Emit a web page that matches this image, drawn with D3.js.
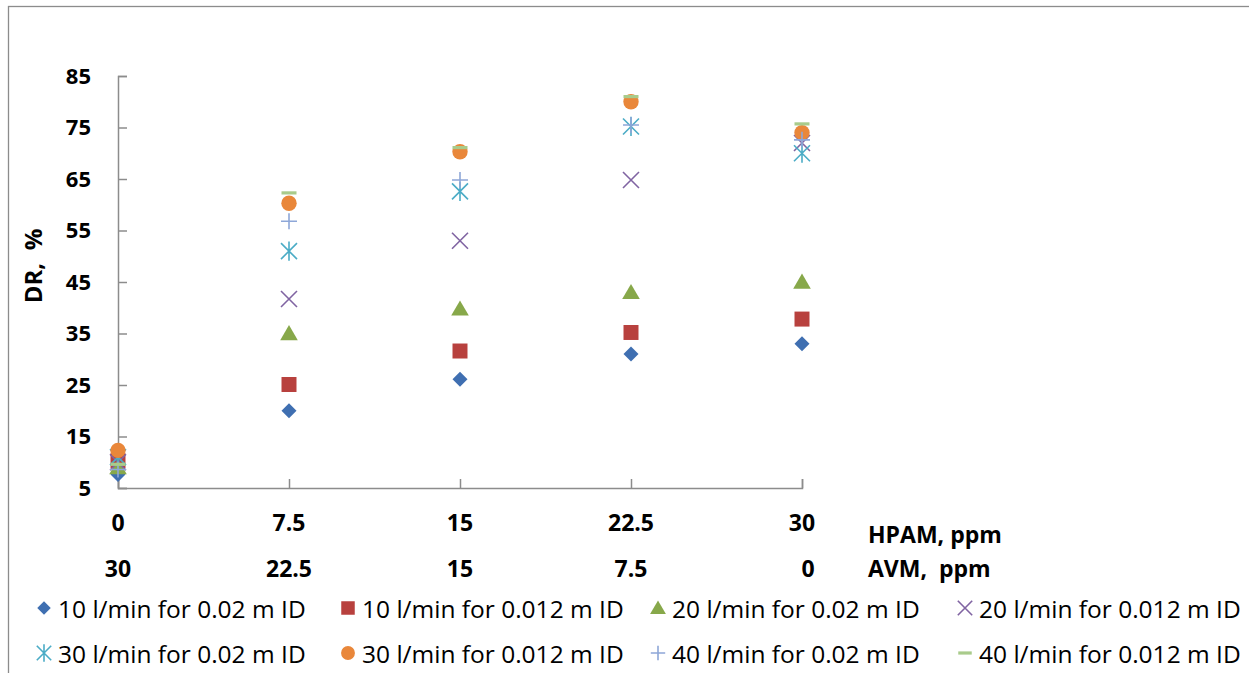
<!DOCTYPE html>
<html>
<head>
<meta charset="utf-8">
<script src="https://cdn.jsdelivr.net/npm/d3@7"></script>
<style>
  html, body { margin: 0; padding: 0; background: #fff; }
</style>
</head>
<body>
<script>
const W = 1249
const H = 673

// x positions (HPAM, ppm) and the paired AVM labels
const hpam = [0, 7.5, 15, 22.5, 30]
const avm = ['30', '22.5', '15', '7.5', '0']
const hpamLabels = ['0', '7.5', '15', '22.5', '30']
const yTicks = [5, 15, 25, 35, 45, 55, 65, 75, 85]

// DR, % for each series
const s10_002 = [7.6, 20, 26.1, 31, 33]
const s10_0012 = [10.3, 25.1, 31.6, 35.2, 37.8]
const s20_002 = [9, 35, 39.8, 43, 45]
const s20_0012 = [10, 41.7, 53, 64.8, 72]
const s30_002 = [11, 51, 62.6, 75.2, 70]
const s30_0012 = [12.3, 60.3, 70.3, 80, 74]
const s40_002 = [8.6, 56.8, 64.8, 75.5, 72.6]
const s40_0012 = [9.6, 62.3, 71.1, 81, 75.7]

const seriesNames = [
  '10 l/min for 0.02 m ID', '10 l/min for 0.012 m ID',
  '20 l/min for 0.02 m ID', '20 l/min for 0.012 m ID',
  '30 l/min for 0.02 m ID', '30 l/min for 0.012 m ID',
  '40 l/min for 0.02 m ID', '40 l/min for 0.012 m ID'
]
const seriesValues = [s10_002, s10_0012, s20_002, s20_0012, s30_002, s30_0012, s40_002, s40_0012]
const shapes = ['diamond', 'square', 'triangle', 'x', 'star', 'circle', 'plus', 'dash']
const colors = ['#3f6fb1', '#b8413e', '#87a84a', '#8064a2', '#4bacc6', '#e9873a', '#8ea7d8', '#a9cb8b']

const font = '"Open Sans", "Liberation Sans", sans-serif'

const svg = d3.select('body').append('svg')
  .attr('width', W)
  .attr('height', H)
  .style('font-family', font)

// outer chart frame
svg.append('rect')
  .attr('x', 8.5).attr('y', 6.5)
  .attr('width', 1300).attr('height', 700)
  .attr('fill', 'none')
  .attr('stroke', '#8c8c8c')
  .attr('stroke-width', 1.3)

const x = d3.scaleLinear().domain([0, 30]).range([118, 802])
const y = d3.scaleLinear().domain([5, 85]).range([488, 76])

// symbol paths
function shapePath (shape, r) {
  switch (shape) {
    case 'diamond': return `M0,${-r}L${r},0L0,${r}L${-r},0Z`
    case 'square': return `M${-r},${-r}H${r}V${r}H${-r}Z`
    case 'triangle': return `M0,${-r * 1.05}L${r * 1.1},${r * 0.85}L${-r * 1.1},${r * 0.85}Z`
    case 'circle': return d3.arc()({ innerRadius: 0, outerRadius: r, startAngle: 0, endAngle: 2 * Math.PI })
    case 'x': return `M${-r},${-r}L${r},${r}M${-r},${r}L${r},${-r}`
    case 'star': return `M${-r},${-r}L${r},${r}M${-r},${r}L${r},${-r}M0,${-r * 1.2}V${r * 1.2}`
    case 'plus': return `M${-r},0H${r}M0,${-r}V${r}`
    case 'dash': return `M${-r},0H${r}`
  }
}
const filled = s => ['diamond', 'square', 'triangle', 'circle'].includes(s)
const strokeW = s => s === 'dash' ? 3.2 : 1.6
const radius = s => ({ diamond: 7.5, square: 7.5, triangle: 8, circle: 7.7, x: 8, star: 8, plus: 8, dash: 7.5 })[s]

function drawMarker (g, shape, color, r) {
  g.append('path')
    .attr('d', shapePath(shape, r))
    .attr('fill', filled(shape) ? color : 'none')
    .attr('stroke', filled(shape) ? 'none' : color)
    .attr('stroke-width', strokeW(shape))
}

// axes
const axisColor = '#8c8c8c'
svg.append('g')
  .attr('transform', `translate(${x(0)},0)`)
  .call(d3.axisLeft(y).tickValues(yTicks).tickSize(-9).tickPadding(27).tickFormat(d3.format('d')))
  .call(g => g.selectAll('path, line').attr('stroke', axisColor).attr('stroke-width', 1.5))
  .call(g => g.selectAll('text')
    .attr('fill', '#000')
    .style('font-family', font)
    .style('font-size', '22px')
    .style('font-weight', 'bold'))

svg.append('g')
  .attr('transform', `translate(0,${y(5)})`)
  .call(d3.axisBottom(x).tickValues(hpam).tickSize(-9).tickFormat(''))
  .call(g => g.selectAll('path, line').attr('stroke', axisColor).attr('stroke-width', 1.5))

// y title
svg.append('text')
  .text('DR,  %')
  .attr('transform', 'translate(32,266) rotate(-90)')
  .attr('text-anchor', 'middle')
  .attr('dominant-baseline', 'central')
  .style('white-space', 'pre')
  .style('font-size', '24px')
  .style('font-weight', 'bold')

// x label rows, placed as text boxes under the axis
const rows = svg.append('g')
  .style('font-size', '23px')
  .style('font-weight', 'bold')
  .attr('text-anchor', 'middle')
  .attr('dominant-baseline', 'central')
rows.selectAll('.hp').data(hpamLabels).enter().append('text')
  .attr('x', (d, i) => x(hpam[i])).attr('y', 522).text(d => d)
rows.selectAll('.av').data(avm).enter().append('text')
  .attr('x', (d, i) => x(hpam[i]) + (i === 4 ? 6 : 0)).attr('y', 568).text(d => d)
rows.append('text').attr('x', 868).attr('y', 534).attr('text-anchor', 'start').text('HPAM, ppm')
rows.append('text').attr('x', 868).attr('y', 568).attr('text-anchor', 'start').style('white-space', 'pre').text('AVM,  ppm')

// points
seriesValues.forEach((vals, si) => {
  const g = svg.append('g').attr('class', 'series')
  vals.forEach((v, i) => {
    const m = g.append('g').attr('transform', `translate(${x(hpam[i])},${y(v)})`)
    drawMarker(m, shapes[si], colors[si], radius(shapes[si]))
  })
})

// legend: 4 columns x 2 rows
const legCols = [44, 348, 658, 965]
const legRows = [608, 653]
const legend = svg.append('g').style('font-size', '24.5px')
seriesNames.forEach((name, i) => {
  const cx = legCols[i % 4]
  const cy = legRows[Math.floor(i / 4)]
  const g = legend.append('g').attr('transform', `translate(${cx},${cy})`)
  drawMarker(g, shapes[i], colors[i], radius(shapes[i]) * 0.9)
  g.append('text')
    .attr('x', 14)
    .attr('dominant-baseline', 'central')
    .text(name)
})
</script>
</body>
</html>
